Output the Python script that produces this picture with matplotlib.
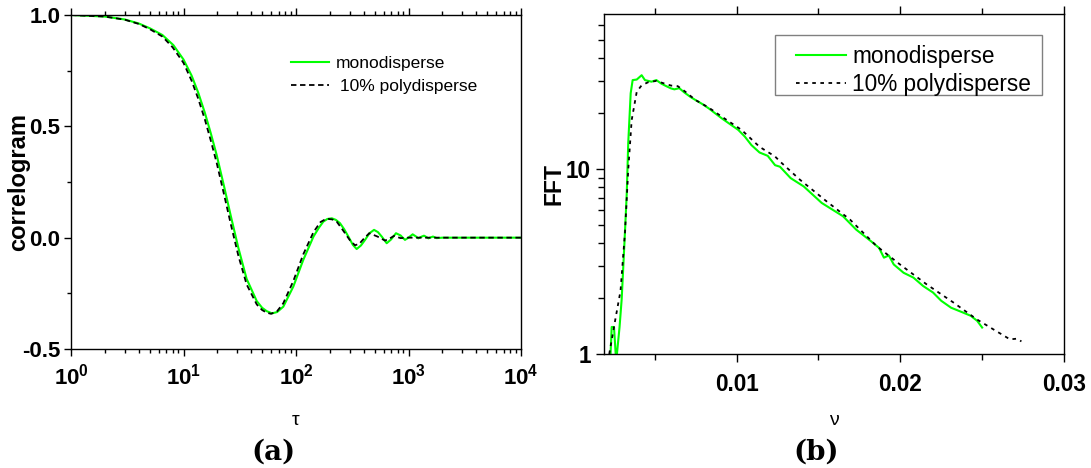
import matplotlib
matplotlib.use('Agg')
import matplotlib.pyplot as plt
from matplotlib.patches import Rectangle
from matplotlib.ticker import LogLocator, MultipleLocator, NullFormatter

# Daten (a): Korrelogramm
tau_mono = [1, 2, 3, 4, 5.04, 6.5, 8.12, 10, 11.8, 13.5, 15.5, 17.5, 19.7, 22.9, 26.4, 30.7,
            36.4, 44.8, 50, 54.9, 61.2, 68, 77.1, 94.6, 116, 143, 160, 175, 190, 208, 226,
            246, 268, 292, 320, 346, 378, 411, 450, 494, 535, 578, 640, 700, 774, 850, 931,
            1010, 1089, 1160, 1222, 1300, 1373, 1440, 1502, 1650, 1780, 2000, 10000]
corr_mono = [1.0, 0.993, 0.98, 0.962, 0.940, 0.910, 0.865, 0.80, 0.728, 0.652, 0.560, 0.468,
             0.372, 0.232, 0.095, -0.045, -0.185, -0.285, -0.315, -0.330, -0.340, -0.334,
             -0.310, -0.220, -0.100, 0.005, 0.045, 0.072, 0.084, 0.087, 0.080, 0.065, 0.038,
             0.005, -0.032, -0.051, -0.035, -0.010, 0.020, 0.035, 0.025, 0.005, -0.025, -0.008,
             0.020, 0.010, -0.010, 0.002, 0.015, 0.006, -0.003, 0.004, 0.009, 0.003, -0.003,
             0.005, -0.002, 0.0, 0.0]

tau_poly = [1, 2, 3, 4, 5, 6.5, 8, 10, 11.8, 13.5, 15.5, 17.5, 19.7, 22.9, 26.4, 30.7, 36.4,
            44.8, 50, 55, 60, 68, 77, 94.6, 116, 143, 165, 180, 194, 210, 230, 260, 300, 334,
            365, 400, 448, 530, 618, 680, 743, 850, 1000, 10000]
corr_poly = [1.0, 0.993, 0.979, 0.960, 0.937, 0.903, 0.855, 0.785, 0.705, 0.625, 0.530, 0.435,
             0.337, 0.195, 0.058, -0.08, -0.21, -0.300, -0.325, -0.337, -0.342, -0.33, -0.295,
             -0.195, -0.075, 0.025, 0.070, 0.081, 0.084, 0.082, 0.072, 0.035, -0.010, -0.034,
             -0.028, -0.005, 0.020, 0.005, -0.013, -0.004, 0.008, -0.002, 0.0, 0.0]

# Daten (b): FFT
nu_mono = [0.00229, 0.00237, 0.00251, 0.00263, 0.00268, 0.00285, 0.00298, 0.00315, 0.00329,
           0.00338, 0.00353, 0.00365, 0.0039, 0.0042, 0.0044, 0.0046, 0.0048, 0.0051, 0.0054,
           0.0057, 0.0060, 0.0062, 0.0065, 0.0068, 0.0072, 0.0075, 0.0079, 0.0083, 0.0087,
           0.0091, 0.0096, 0.0101, 0.0105, 0.0109, 0.0114, 0.0119, 0.01235, 0.01265, 0.0133,
           0.0141, 0.0152, 0.0165, 0.0173, 0.0182, 0.0187, 0.0190, 0.0193, 0.0196, 0.0202,
           0.0208, 0.0214, 0.0220, 0.0225, 0.0231, 0.0238, 0.0243, 0.0247, 0.0250]
fft_mono = [0.95, 1.40, 1.40, 0.95, 0.98, 1.4, 1.98, 4.0, 7.4, 13.8, 25.7, 30.3, 30.5, 32.2,
            30.3, 30.0, 29.7, 30.3, 29.0, 28.1, 27.3, 27.0, 27.4, 26.0, 24.5, 23.6, 22.5, 21.3,
            20.0, 18.8, 17.5, 16.3, 15.0, 13.5, 12.3, 11.8, 10.5, 10.3, 8.94, 8.06, 6.56, 5.56,
            4.71, 4.08, 3.75, 3.32, 3.41, 3.05, 2.75, 2.59, 2.33, 2.15, 1.94, 1.78, 1.68, 1.61,
            1.51, 1.39]

nu_poly = [0.00222, 0.00257, 0.00291, 0.00318, 0.00338, 0.00359, 0.0039, 0.0042, 0.0046,
           0.0051, 0.0057, 0.0060, 0.0064, 0.0068, 0.0075, 0.0083, 0.0091, 0.0103, 0.0114,
           0.01235, 0.01265, 0.01387, 0.0155, 0.01693, 0.01856, 0.01998, 0.02161, 0.02324,
           0.02467, 0.02568, 0.0267, 0.02711, 0.0274]
fft_poly = [1.0, 1.5, 2.2, 4.52, 9.9, 18.4, 26.2, 28.4, 29.5, 30.0, 28.8, 28.3, 28.1, 26.5,
            23.6, 21.5, 19.2, 16.3, 13.2, 11.7, 11.0, 8.76, 6.69, 5.33, 3.83, 3.05, 2.38, 1.90,
            1.54, 1.36, 1.20, 1.21, 1.17]

plt.rcParams['font.family'] = ['Liberation Sans', 'DejaVu Sans']
plt.rcParams['mathtext.fontset'] = 'custom'
plt.rcParams['mathtext.bf'] = 'Liberation Sans:bold'
plt.rcParams['mathtext.rm'] = 'Liberation Sans'
plt.rcParams['axes.linewidth'] = 1.0

GREEN = '#00ff00'

fig = plt.figure(figsize=(10.91, 4.68), dpi=100)
ax1 = fig.add_axes([71/1091, 1-349/468, 450/1091, 334/468])
ax2 = fig.add_axes([604/1091, 1-354/468, 460/1091, 340/468])

# (a)
ax1.plot(tau_mono, corr_mono, color=GREEN, lw=1.5, label='monodisperse')
ax1.plot(tau_poly, corr_poly, color='black', ls=(0, (3, 2)), lw=1.3, label=' 10% polydisperse')
ax1.set_xscale('log')
ax1.set_xlim(1, 1e4)
ax1.set_ylim(-0.5, 1.0)
ax1.set_xticks([1, 10, 100, 1000, 10000])
ax1.set_xticklabels([r'$\mathbf{10^{%d}}$' % i for i in range(5)])
ax1.xaxis.set_minor_locator(LogLocator(base=10, subs=range(2, 10), numticks=20))
ax1.xaxis.set_minor_formatter(NullFormatter())
ax1.set_yticks([-0.5, 0.0, 0.5, 1.0])
ax1.set_yticklabels(['-0.5', '0.0', '0.5', '1.0'], fontweight='bold')
ax1.yaxis.set_minor_locator(MultipleLocator(0.25))
ax1.tick_params(which='both', direction='out', top=True, right=False, width=1.0, labelsize=16)
ax1.tick_params(which='major', length=5)
ax1.tick_params(which='minor', length=3)
ax1.tick_params(axis='y', pad=2.5)
ax1.tick_params(axis='x', pad=5.5)
ax1.set_ylabel('correlogram', fontsize=17, fontweight='bold')
ax1.yaxis.set_label_coords(-0.09, 0.5)
ax1.set_xlabel('τ', fontsize=14)
ax1.xaxis.set_label_coords(0.5, -0.19)
ax1.legend(loc='upper left', bbox_to_anchor=(0.489, 0.877), frameon=False, fontsize=12.5,
           handlelength=2.2, handletextpad=0.35, labelspacing=0.45, borderpad=0, borderaxespad=0)

# (b)
ax2.plot(nu_mono, fft_mono, color=GREEN, lw=1.5, label='monodisperse')
ax2.plot(nu_poly, fft_poly, color='black', ls=(0, (2, 2.5)), lw=1.3, label='10% polydisperse')
ax2.set_yscale('log')
ax2.set_xlim(0.0019, 0.03)
ax2.set_ylim(1, 69)
ax2.set_xticks([0.01, 0.02, 0.03])
ax2.set_xticklabels(['0.01', '0.02', '0.03'], fontweight='bold')
ax2.xaxis.set_minor_locator(MultipleLocator(0.005))
ax2.set_yticks([1, 10])
ax2.set_yticklabels(['1', '10'], fontweight='bold')
ax2.yaxis.set_minor_locator(LogLocator(base=10, subs=range(2, 10), numticks=20))
ax2.yaxis.set_minor_formatter(NullFormatter())
ax2.tick_params(which='both', direction='out', top=True, right=False, width=1.0, labelsize=16.3)
ax2.tick_params(which='major', length=6)
ax2.tick_params(which='minor', length=4)
ax2.tick_params(axis='x', pad=8)
ax2.set_ylabel('FFT', fontsize=16.5, fontweight='bold')
ax2.yaxis.set_label_coords(-0.083, 0.5)
ax2.set_xlabel('ν', fontsize=14)
ax2.xaxis.set_label_coords(0.5, -0.172)
ax2.add_patch(Rectangle((0.3717, 0.7618), 0.5804, 0.1765, transform=ax2.transAxes,
                        facecolor='white', edgecolor='#808080', lw=1.0, zorder=4))
ax2.legend(loc='upper left', bbox_to_anchor=(0.417, 0.91), frameon=False, fontsize=16.3,
           handlelength=2.2, handletextpad=0.3, labelspacing=0.25, borderpad=0,
           borderaxespad=0).set_zorder(5)

fig.text(273/1091, 1-452/468, '(a)', family='DejaVu Serif', fontweight='bold', fontsize=20,
         ha='center', va='center')
fig.text(816/1091, 1-452/468, '(b)', family='DejaVu Serif', fontweight='bold', fontsize=20,
         ha='center', va='center')

fig.savefig('out.png', dpi=100)
